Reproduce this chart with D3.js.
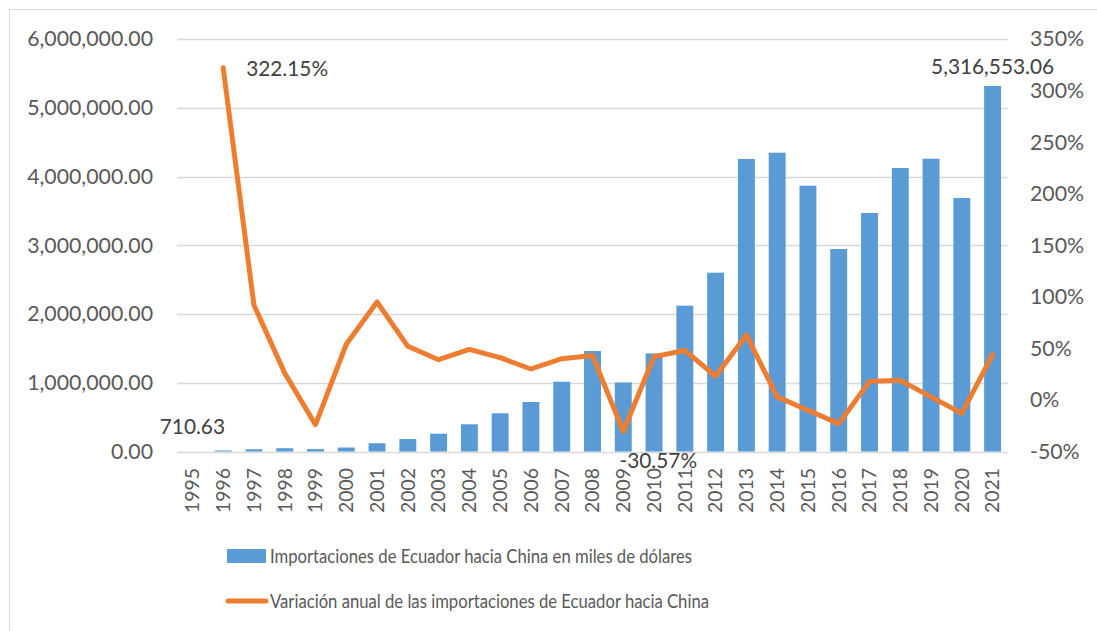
<!DOCTYPE html>
<html>
<head>
<meta charset="utf-8">
<script src="https://cdn.jsdelivr.net/npm/d3@7"></script>
<style>
  body { margin: 0; background: #fff; }
  text { font-family: Lato, "Open Sans", sans-serif; }
</style>
</head>
<body>
<script>
// data
var years = ['1995','1996','1997','1998','1999','2000','2001','2002','2003','2004','2005','2006','2007',
             '2008','2009','2010','2011','2012','2013','2014','2015','2016','2017','2018','2019','2020','2021']
var imports = [710.63, 15000, 33000, 48000, 35000, 58000, 120000, 182000, 259000, 396000, 556000, 720000, 1015000,
               1462000, 1004000, 1426000, 2121000, 2601000, 4255000, 4346000, 3866000, 2945000, 3469000, 4124000, 4259000, 3687000, 5316553.06]
// variación anual (%), no value for 1995
var variation = [null, 322.15, 92, 26, -24, 54, 95, 52, 39, 49, 41, 30, 40,
                 43, -30.57, 42, 48, 23, 63, 3, -10, -23, 18, 19, 3, -13, 44]
var leftTicks = [0, 1000000, 2000000, 3000000, 4000000, 5000000, 6000000]
var rightTicks = [-50, 0, 50, 100, 150, 200, 250, 300, 350]
var legendLabels = ['Importaciones de Ecuador hacia China en miles de dólares',
                    'Variación anual de las importaciones de Ecuador hacia China']

var W = 1097, H = 631
var svg = d3.select('body').append('svg').attr('width', W).attr('height', H)

// chart frame (only left & top edges show)
svg.append('rect').attr('x', 9.5).attr('y', 9.5).attr('width', W + 20).attr('height', H + 20)
  .style('fill', 'white').style('stroke', '#d9d9d9').style('stroke-width', 1)

var plotL = 177, plotR = 1008, plotT = 39, plotB = 451.5
var x = d3.scaleBand().domain(years).range([plotL, plotR]).paddingInner(0.45).paddingOuter(0.225)
var y = d3.scaleLinear().domain([0, 6000000]).range([plotB, plotT])
var y2 = d3.scaleLinear().domain([-50, 350]).range([plotB, plotT])
var cx = d => x(d) + x.bandwidth() / 2

var fmtNum = d3.format(',.2f')

// font size so that a sample string gets a given width
function fitSize(sample, width) {
  var t = svg.append('text').style('font-size', '20px').text(sample)
  var w = t.node().getComputedTextLength()
  t.remove()
  return 20 * width / w
}
var axisSize = fitSize('6,000,000.00', 126)
var yearSize = fitSize('1995', 45)
var labelSize = fitSize('322.15%', 82)

// gridlines
svg.append('g').selectAll('line').data(leftTicks).enter().append('line')
  .attr('x1', plotL).attr('x2', plotR)
  .attr('y1', d => Math.round(y(d)) + 0.5).attr('y2', d => Math.round(y(d)) + 0.5)
  .style('stroke', '#d9d9d9').style('stroke-width', 1.5)

// left axis labels
svg.append('g').selectAll('text').data(leftTicks).enter().append('text')
  .attr('x', 153).attr('y', d => y(d)).attr('dy', '0.35em')
  .attr('text-anchor', 'end').style('font-size', axisSize + 'px').style('fill', '#595959')
  .text(d => fmtNum(d))

// right axis labels
svg.append('g').selectAll('text').data(rightTicks).enter().append('text')
  .attr('x', 1030).attr('y', d => y2(d)).attr('dy', '0.35em')
  .style('font-size', axisSize + 'px').style('fill', '#595959')
  .text(d => d + '%')

// year labels (rotated)
svg.append('g').selectAll('text').data(years).enter().append('text')
  .attr('transform', d => 'translate(' + cx(d) + ',468) rotate(-90)')
  .attr('dy', '0.35em').attr('text-anchor', 'end')
  .style('font-size', yearSize + 'px').style('fill', '#595959')
  .text(d => d)

// bars
svg.append('g').selectAll('rect').data(imports).enter().append('rect')
  .attr('x', (d, i) => x(years[i])).attr('width', x.bandwidth())
  .attr('y', d => y(d)).attr('height', d => plotB - y(d))
  .style('fill', '#5b9bd5')

// line
var pts = variation.map((v, i) => [cx(years[i]), v]).filter(p => p[1] !== null)
var line = d3.line().x(p => p[0]).y(p => y2(p[1]))
svg.append('path').datum(pts).attr('d', line)
  .style('fill', 'none').style('stroke', '#ed7d31').style('stroke-width', 5)
  .style('stroke-linejoin', 'round').style('stroke-linecap', 'round')

// data labels
var lab = svg.append('g').style('font-size', labelSize + 'px').style('fill', '#404040')
lab.append('text').attr('x', cx(years[1]) + 23).attr('y', y2(variation[1]) + 1).attr('dy', '0.35em')
  .text(variation[1].toFixed(2) + '%')
lab.append('text').attr('x', cx(years[0])).attr('y', y(imports[0]) - 25).attr('dy', '0.35em')
  .attr('text-anchor', 'middle').text(fmtNum(imports[0]))
lab.append('text').attr('x', cx(years[14]) + 35).attr('y', y2(variation[14]) + 29).attr('dy', '0.35em')
  .attr('text-anchor', 'middle').text(variation[14].toFixed(2) + '%')
lab.append('text').attr('x', cx(years[26])).attr('y', y(imports[26]) - 19).attr('dy', '0.35em')
  .attr('text-anchor', 'middle').text(fmtNum(imports[26]))

// legend (Calibri-like narrow text: squeeze a larger size into the reference width)
var lg = svg.append('g').style('font-size', '19.5px').style('fill', '#595959')
lg.append('rect').attr('x', 227).attr('y', 549).attr('width', 39).attr('height', 14).style('fill', '#5b9bd5')
lg.append('text').attr('x', 270).attr('y', 556).attr('dy', '0.35em')
  .attr('textLength', 422).attr('lengthAdjust', 'spacingAndGlyphs').text(legendLabels[0])
lg.append('line').attr('x1', 228).attr('x2', 266).attr('y1', 601).attr('y2', 601)
  .style('stroke', '#ed7d31').style('stroke-width', 5).style('stroke-linecap', 'round')
lg.append('text').attr('x', 270).attr('y', 601).attr('dy', '0.35em')
  .attr('textLength', 439).attr('lengthAdjust', 'spacingAndGlyphs').text(legendLabels[1])
</script>
</body>
</html>
